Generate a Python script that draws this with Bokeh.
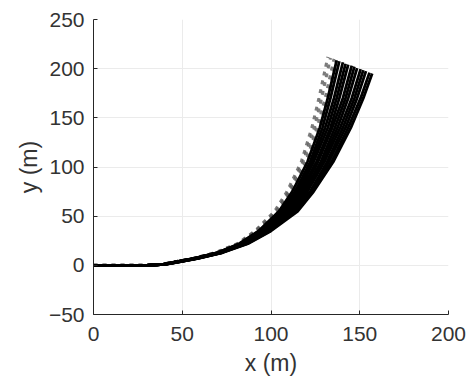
from bokeh.plotting import figure
from bokeh.models import Range1d, FixedTicker
from bokeh.embed import file_html
from bokeh.resources import INLINE

# Shared y-levels (m) at which each trajectory's x (m) was read
y_levels = [0, 0, 1, 3, 7, 13, 22, 35, 55, 75, 105, 140, 170]

# Dashed (grey) trajectories: x at y_levels, then end point
dashed_x = [
    [0, 30, 38.5, 44, 56, 69, 81, 91, 102, 109, 117, 123, 127],
    [0, 30, 38.5, 44, 56, 69, 81.5, 91.5, 103, 110, 118, 124.5, 128.5],
    [0, 30, 39, 44.5, 56.5, 69.5, 82, 92, 104, 111, 119.5, 126, 130.5],
    [0, 30, 39, 44.5, 56.5, 70, 82, 93, 104.5, 112, 120.5, 127.5, 132],
]
dashed_end_x = [132, 133.5, 135.5, 137]
dashed_end_y = [212, 211, 210, 208.5]

# Solid (black) trajectories
solid_x = [
    [0, 30, 39, 44.5, 56.5, 70, 82, 93, 104.5, 112, 120.5, 127.5, 132],
    [0, 30, 39, 45, 57, 70, 82.5, 93.5, 105.5, 113.5, 122, 129, 133.5],
    [0, 30, 39, 45, 57, 70.5, 83, 94, 106.5, 114.5, 123, 130.5, 135.5],
    [0, 30, 39.5, 45, 57, 70.5, 83.5, 94.5, 107, 115.5, 124, 132, 137],
    [0, 30, 39.5, 45.5, 57.5, 71, 84, 95, 108, 116.5, 125.5, 133.5, 138.5],
    [0, 30, 39.5, 45.5, 57.5, 71, 84, 96, 109, 117.5, 126.5, 134.5, 140.5],
    [0, 30, 39.5, 46, 58, 71.5, 84.5, 96.5, 110, 118.5, 128, 136, 142],
    [0, 30, 40, 46, 58, 71.5, 85, 97, 110.5, 119.5, 129, 137.5, 143.5],
    [0, 30, 40, 46, 58, 72, 85.5, 97.5, 111.5, 120.5, 130, 139, 145.5],
    [0, 30, 40, 46.5, 58.5, 72, 86, 98, 112.5, 122, 131.5, 140.5, 147],
    [0, 30, 40, 46.5, 58.5, 72.5, 86, 99, 113, 123, 132.5, 142, 148.5],
    [0, 30, 40.5, 47, 59, 72.5, 86.5, 99.5, 114, 123.5, 134, 143.5, 150.5],
    [0, 30, 40.5, 47, 59, 73, 87, 100, 115, 124, 135, 145, 152],
]
solid_end_x = [137, 138.5, 140.5, 142, 143.5, 145.5, 147, 148.5, 150.5, 152, 153.5, 155.5, 157]
solid_end_y = [208.5, 207.5, 206.5, 205, 204, 203, 202, 200.5, 199.5, 198.5, 197.5, 196, 195]

x_ticks = [0, 50, 100, 150, 200]
y_ticks = [-50, 0, 50, 100, 150, 200, 250]

p = figure(width=469, height=383, output_backend="svg", toolbar_location=None,
           x_range=Range1d(0, 200), y_range=Range1d(-50, 250),
           min_border_left=93, min_border_right=21, min_border_top=19, min_border_bottom=69)

for xs, ex, ey in zip(dashed_x, dashed_end_x, dashed_end_y):
    p.line(xs + [ex], y_levels + [ey], line_color="#5a5a5a", line_alpha=0.8,
           line_width=3, line_dash="4 5")

for xs, ex, ey in zip(solid_x, solid_end_x, solid_end_y):
    p.line(xs + [ex], y_levels + [ey], line_color="black", line_width=2.8)

p.outline_line_color = None
p.background_fill_color = "white"
p.border_fill_color = "white"

for ax in (p.xaxis[0], p.yaxis[0]):
    ax.axis_line_color = "#262626"
    ax.major_tick_line_color = "#262626"
    ax.major_tick_in = 4
    ax.major_tick_out = 0
    ax.minor_tick_line_color = None
    ax.major_label_text_font = "Liberation Sans"
    ax.major_label_text_font_size = "21px"
    ax.major_label_text_color = "#333333"
    ax.axis_label_text_font = "Liberation Sans"
    ax.axis_label_text_font_size = "23px"
    ax.axis_label_text_font_style = "normal"
    ax.axis_label_text_color = "#333333"

p.xaxis[0].ticker = FixedTicker(ticks=x_ticks)
p.yaxis[0].ticker = FixedTicker(ticks=y_ticks)
p.xaxis[0].axis_label = "x (m)"
p.yaxis[0].axis_label = "y (m)"
p.xaxis[0].major_label_standoff = 12
p.yaxis[0].major_label_standoff = 9
p.xaxis[0].axis_label_standoff = 6
p.yaxis[0].axis_label_standoff = 4

p.xgrid.grid_line_color = "#ebebeb"
p.ygrid.grid_line_color = "#ebebeb"

open("out.html", "w").write(file_html(p, INLINE))
